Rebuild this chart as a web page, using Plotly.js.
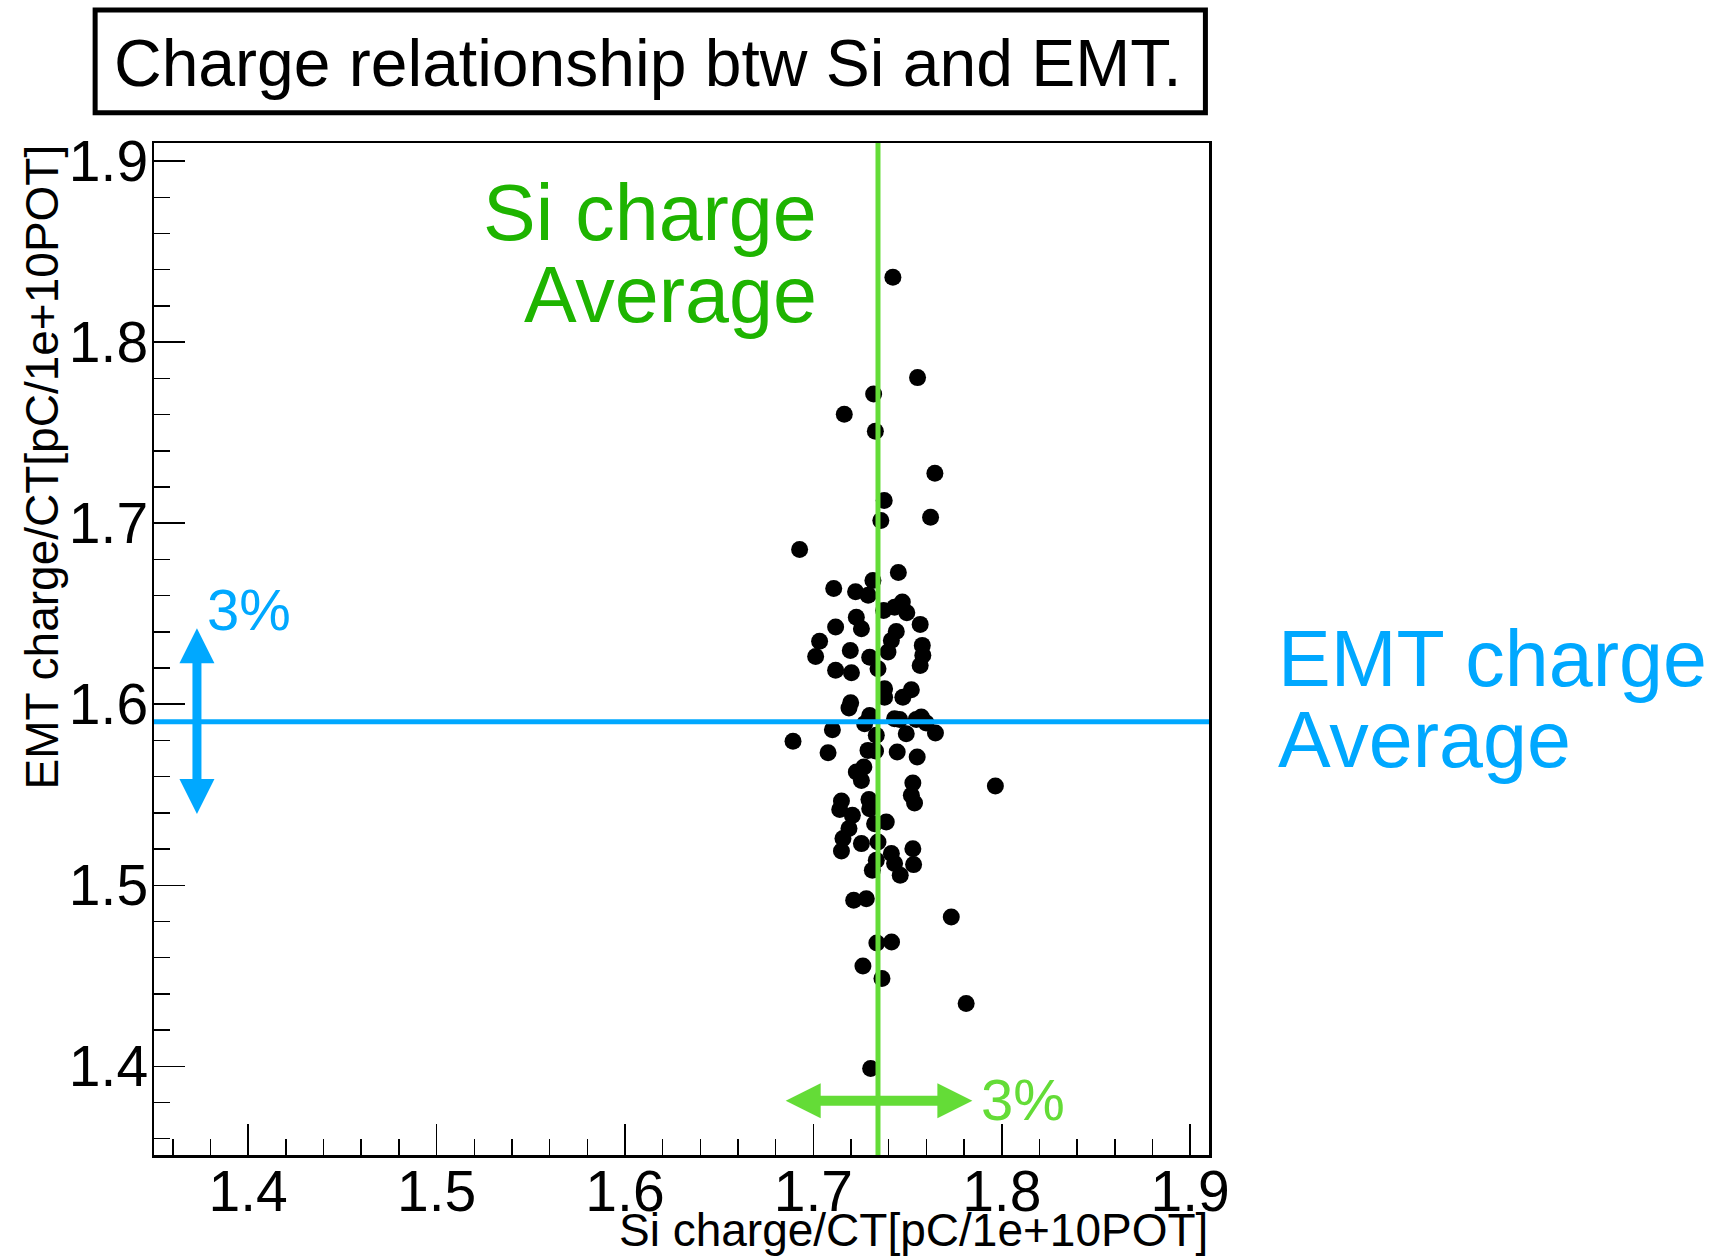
<!DOCTYPE html>
<html>
<head>
<meta charset="utf-8">
<script src="https://cdn.plot.ly/plotly-3.0.1.min.js"></script>
<style>
html,body{margin:0;padding:0;background:#fff;}
#chart{width:1734px;height:1256px;}
</style>
</head>
<body>
<div id="chart"></div>
<script>
// ---- data ----
var siCharge = [
  1.7422,1.7553,1.7320,1.7164,1.7329,1.7645,1.7376,1.7358,1.7622,1.6927,1.7451,1.7108,1.7316,1.7224,1.7291,
  1.7373,1.7431,1.7472,1.7496,1.7228,1.7255,1.7118,1.7567,1.7440,1.7414,1.7396,1.7033,1.7012,1.7196,1.7299,
  1.7578,1.7581,1.7567,1.7118,1.7202,1.7343,1.7378,1.7378,1.7520,1.7475,1.7198,1.7189,1.7299,1.7272,1.7431,
  1.7458,1.7546,1.7573,1.7599,1.7101,1.6892,1.7648,1.7493,1.7334,1.7078,1.7290,1.7330,1.7445,1.7551,1.7268,
  1.7228,1.7255,1.7528,1.7520,1.7537,1.7966,1.7149,1.7140,1.7207,1.7295,1.7299,1.7325,1.7387,1.7189,1.7157,
  1.7255,1.7343,1.7149,1.7528,1.7414,1.7431,1.7532,1.7334,1.7313,1.7461,1.7214,1.7281,1.7732,1.7337,1.7415,
  1.7263,1.7364,1.7811,1.7304
];
var emtCharge = [
  1.8358,1.7804,1.7714,1.7602,1.7508,1.7276,1.7125,1.7015,1.7033,1.6855,1.6728,1.6639,1.6684,1.6621,1.6602,
  1.6518,1.6536,1.6564,1.6505,1.6481,1.6417,1.6426,1.6441,1.6402,1.6352,1.6288,1.6348,1.6264,1.6297,1.6260,
  1.6325,1.6270,1.6214,1.6187,1.6174,1.6196,1.6086,1.6039,1.6080,1.6039,1.6008,1.5979,1.5938,1.5892,1.5920,
  1.5915,1.5915,1.5929,1.5896,1.5859,1.5795,1.5841,1.5837,1.5828,1.5732,1.5745,1.5741,1.5736,1.5708,1.5653,
  1.5625,1.5579,1.5565,1.5497,1.5454,1.5548,1.5465,1.5418,1.5386,1.5473,1.5423,1.5340,1.5349,1.5313,1.5258,
  1.5230,1.5239,1.5189,1.5202,1.5175,1.5120,1.5114,1.5138,1.5083,1.5055,1.4917,1.4926,1.4825,1.4681,1.4687,
  1.4554,1.4485,1.4347,1.3988
];
var siAverage = 1.7343;
var emtAverage = 1.5903;
var siArrowEnds = [1.6853, 1.7844];   // x extent of the green "3%" arrow
var siArrowLevel = 1.381;             // y of the green arrow
var emtArrowEnds = [1.5394, 1.6419];  // y extent of the blue "3%" arrow
var emtArrowLevel = 1.3728;           // x of the blue arrow
var tickValues = [1.4, 1.5, 1.6, 1.7, 1.8, 1.9];
var tickLabels = ['1.4', '1.5', '1.6', '1.7', '1.8', '1.9'];
var titleText = 'Charge relationship btw Si and EMT.';
var xTitleText = 'Si charge/CT[pC/1e+10POT]';
var yTitleText = 'EMT charge/CT[pC/1e+10POT]';

// ---- styling ----
var FONT = 'Liberation Sans, Arial, Helvetica, sans-serif';
var GREEN_LINE = 'rgb(100,220,55)';
var GREEN_TEXT = 'rgb(30,180,0)';
var BLUE = 'rgb(0,168,255)';
var xRange = [1.35, 1.91], yRange = [1.351, 1.91];
var M = {l: 154, r: 525, t: 143, b: 101};
var plotW = 1734 - M.l - M.r, plotH = 1256 - M.t - M.b;
var dxPx = (xRange[1] - xRange[0]) / plotW;
var dyPx = (yRange[1] - yRange[0]) / plotH;

function tri(p1, p2, p3) {
  return 'M' + p1[0] + ',' + p1[1] + ' L' + p2[0] + ',' + p2[1] + ' L' + p3[0] + ',' + p3[1] + ' Z';
}

var headLen = 35, headHalf = 17.5;
var shapes = [];
// average lines
shapes.push({type: 'line', xref: 'x', yref: 'paper', x0: siAverage, x1: siAverage, y0: 0, y1: 1,
  line: {color: GREEN_LINE, width: 5}});
shapes.push({type: 'line', xref: 'paper', yref: 'y', x0: 0, x1: 1, y0: emtAverage, y1: emtAverage,
  line: {color: BLUE, width: 5}});
// green horizontal double arrow
var gx0 = siArrowEnds[0], gx1 = siArrowEnds[1], gy = siArrowLevel;
shapes.push({type: 'line', xref: 'x', yref: 'y', x0: gx0 + headLen * dxPx * 0.8, x1: gx1 - headLen * dxPx * 0.8,
  y0: gy, y1: gy, line: {color: GREEN_LINE, width: 10}});
shapes.push({type: 'path', xref: 'x', yref: 'y', fillcolor: GREEN_LINE, line: {width: 0},
  path: tri([gx0, gy], [gx0 + headLen * dxPx, gy + headHalf * dyPx], [gx0 + headLen * dxPx, gy - headHalf * dyPx])});
shapes.push({type: 'path', xref: 'x', yref: 'y', fillcolor: GREEN_LINE, line: {width: 0},
  path: tri([gx1, gy], [gx1 - headLen * dxPx, gy + headHalf * dyPx], [gx1 - headLen * dxPx, gy - headHalf * dyPx])});
// blue vertical double arrow
var by0 = emtArrowEnds[0], by1 = emtArrowEnds[1], bx = emtArrowLevel;
shapes.push({type: 'line', xref: 'x', yref: 'y', x0: bx, x1: bx,
  y0: by0 + headLen * dyPx * 0.8, y1: by1 - headLen * dyPx * 0.8, line: {color: BLUE, width: 9}});
shapes.push({type: 'path', xref: 'x', yref: 'y', fillcolor: BLUE, line: {width: 0},
  path: tri([bx, by0], [bx - headHalf * dxPx, by0 + headLen * dyPx], [bx + headHalf * dxPx, by0 + headLen * dyPx])});
shapes.push({type: 'path', xref: 'x', yref: 'y', fillcolor: BLUE, line: {width: 0},
  path: tri([bx, by1], [bx - headHalf * dxPx, by1 - headLen * dyPx], [bx + headHalf * dxPx, by1 - headLen * dyPx])});
// title box
shapes.push({type: 'rect', xref: 'paper', yref: 'paper', x0: -0.0558, x1: 0.9966, y0: 1.0298, y1: 1.1314,
  line: {color: 'black', width: 5}, fillcolor: 'white'});

function ann(text, x, y, xa, size, color, extra) {
  var a = {text: text, xref: 'paper', yref: 'paper', x: x, y: y, xanchor: xa, yanchor: 'middle',
    showarrow: false, borderpad: 0, font: {family: FONT, size: size, color: color}};
  if (extra) for (var k in extra) a[k] = extra[k];
  return a;
}
var annotations = [
  ann(titleText, 0.4683, 1.0787, 'center', 66, 'black'),
  ann('Si charge', 0.6294, 0.9312, 'right', 79, GREEN_TEXT),
  ann('Average', 0.6294, 0.8505, 'right', 79, GREEN_TEXT),
  ann('EMT charge', 1.0649, 0.4905, 'left', 79, BLUE),
  ann('Average', 1.0649, 0.4108, 'left', 79, BLUE),
  ann('3%', 0.0493, 0.5393, 'left', 58, BLUE),
  ann('3%', 0.7825, 0.0545, 'left', 58, GREEN_LINE),
  ann(xTitleText, 1.0, -0.0740, 'right', 46, 'black'),
  ann(yTitleText, -0.1062, 1.0, 'center', 46, 'black', {textangle: -90, yanchor: 'top'})
];

function axis(range, standoff) {
  return {
    range: range,
    tickmode: 'array', tickvals: tickValues, ticktext: tickLabels,
    ticks: 'inside', ticklen: 31, tickwidth: 1.5, tickcolor: 'black',
    ticklabelstandoff: standoff,
    showline: true, linecolor: 'black', linewidth: 2.5, mirror: true,
    showgrid: false, zeroline: false, fixedrange: true,
    tickfont: {family: FONT, size: 57, color: 'black'},
    minor: {ticks: 'inside', ticklen: 16, tickwidth: 1.5, tickcolor: 'black',
            tickmode: 'linear', tick0: 1.4, dtick: 0.02, showgrid: false}
  };
}

var trace = {
  type: 'scatter', mode: 'markers', x: siCharge, y: emtCharge,
  marker: {color: 'black', size: 17, line: {width: 0}},
  hoverinfo: 'x+y', showlegend: false
};

var layout = {
  width: 1734, height: 1256,
  margin: M,
  paper_bgcolor: 'white', plot_bgcolor: 'white',
  font: {family: FONT, color: 'black'},
  showlegend: false,
  xaxis: axis(xRange, -15),
  yaxis: axis(yRange, -8),
  shapes: shapes, annotations: annotations
};

Plotly.newPlot('chart', [trace], layout, {displayModeBar: false, staticPlot: true});
</script>
</body>
</html>
